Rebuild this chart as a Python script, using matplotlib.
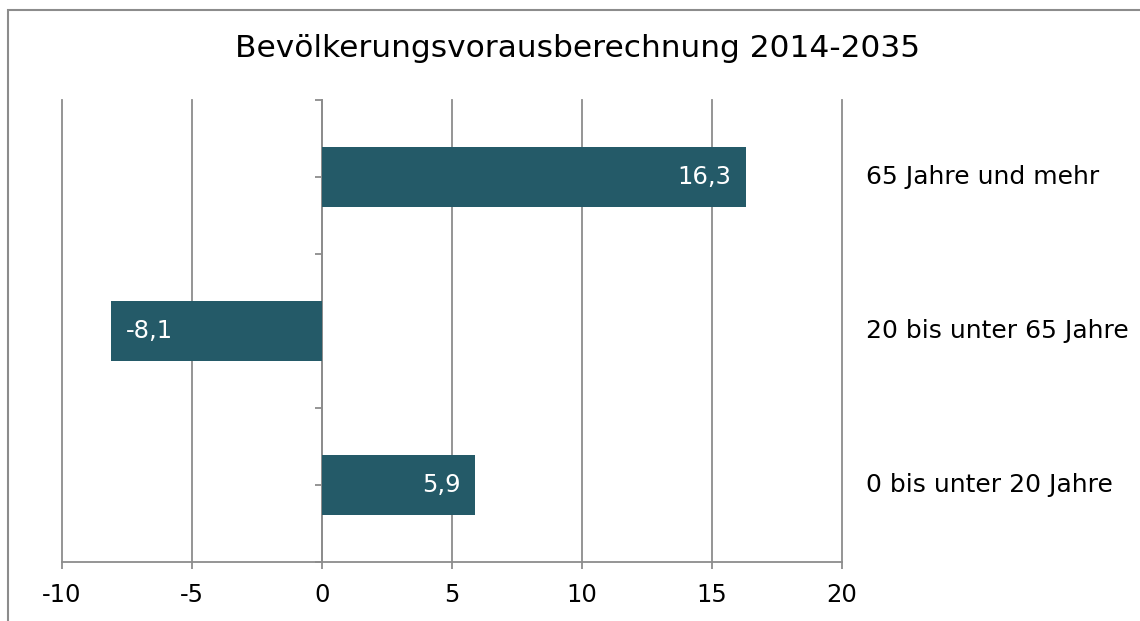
import numpy as np
import matplotlib
matplotlib.use("Agg")
import matplotlib.pyplot as plt
from matplotlib.patches import Rectangle
from matplotlib.ticker import FixedLocator

categories = ["0 bis unter 20 Jahre", "20 bis unter 65 Jahre", "65 Jahre und mehr"]
values = [5.9, -8.1, 16.3]
x_ticks = [-10, -5, 0, 5, 10, 15, 20]
title = "Bevölkerungsvorausberechnung 2014-2035"

bar_color = "#245a68"
grid_color = "#8c8c8c"

plt.rcParams["font.family"] = ["DejaVu Sans"]
plt.rcParams["axes.unicode_minus"] = False

fig = plt.figure(figsize=(11.4, 6.21), dpi=100)
fig.patches.append(Rectangle((8 / 1140, -0.05), 1.2, 1 - 10 / 621 + 0.05,
                             transform=fig.transFigure, facecolor="none",
                             edgecolor="#8c8c8c", linewidth=1.5))

ax = fig.add_axes([62 / 1140, 59 / 621, 780 / 1140, 462 / 621])

y = np.arange(len(categories))
bars = ax.barh(y, values, height=0.39, color=bar_color, zorder=3)

for b, v in zip(bars, values):
    label = f"{v:.1f}".replace(".", ",")
    if v >= 0:
        ax.text(v - 0.55, b.get_y() + b.get_height() / 2, label, color="white",
                ha="right", va="center", fontsize=17.5, zorder=4)
    else:
        ax.text(v + 0.55, b.get_y() + b.get_height() / 2, label, color="white",
                ha="left", va="center", fontsize=17.5, zorder=4)

for yi, cat in zip(y, categories):
    ax.text(1.031, yi, cat, transform=ax.get_yaxis_transform(), ha="left",
            va="center", fontsize=18, clip_on=False)

ax.set_xlim(-10, 20)
ax.set_ylim(-0.5, 2.5)
ax.set_xticks(x_ticks)
ax.set_xticklabels([str(t) for t in x_ticks], fontsize=17.5)
ax.grid(axis="x", color=grid_color, linewidth=1.3, zorder=0)
for gl in ax.get_xgridlines():
    gl.set_clip_on(False)

ax.yaxis.set_major_locator(FixedLocator([-0.5, 0.5, 1.5, 2.5]))
ax.yaxis.set_minor_locator(FixedLocator([0, 1, 2]))
ax.set_yticklabels([])
ax.spines["left"].set_position(("data", 0))
ax.spines["left"].set_color(grid_color)
ax.spines["left"].set_linewidth(1.3)
ax.spines["bottom"].set_color(grid_color)
ax.spines["bottom"].set_linewidth(1.3)
ax.spines["top"].set_visible(False)
ax.spines["right"].set_visible(False)
ax.tick_params(axis="y", which="both", length=5, width=1.3, color=grid_color,
               direction="out")
ax.tick_params(axis="x", length=5, width=1.3, color=grid_color, pad=10)

fig.text(0.507, 0.922, title, ha="center", va="center", fontsize=22.5)

fig.savefig("out.png", dpi=100)
